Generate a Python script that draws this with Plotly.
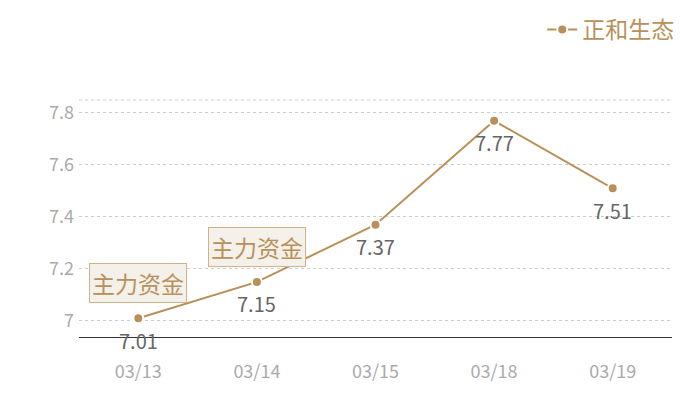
import plotly.graph_objects as go

dates = ['03/13', '03/14', '03/15', '03/18', '03/19']
prices = [7.01, 7.15, 7.37, 7.77, 7.51]
series_name = '正和生态'
flag_dates = ['03/13', '03/14']
flag_text = '主力资金'

gold = '#b8915a'
font_cn = 'Noto Sans CJK SC'

fig = go.Figure()
fig.add_trace(go.Scatter(
    x=dates, y=prices, name=series_name,
    mode='lines+markers',
    line=dict(color=gold, width=2),
    marker=dict(color=gold, size=10, line=dict(color='white', width=2)),
    cliponaxis=False,
))

# value labels under each point
for d, v in zip(dates, prices):
    fig.add_annotation(
        x=d, y=v, text=f'{v:.2f}', showarrow=False, yshift=-22,
        font=dict(color='#666666', size=20, family=font_cn),
    )

for d in flag_dates:
    fig.add_annotation(
        x=d, y=prices[dates.index(d)], text=flag_text,
        showarrow=False, yshift=35,
        font=dict(color=gold, size=23, family=font_cn),
        bgcolor='#f4f0ea', bordercolor='#cfb285', borderwidth=1, borderpad=2,
    )

# dotted top border of the grid
fig.add_shape(type='line', xref='paper', yref='paper', x0=0, x1=1, y0=1, y1=1,
              line=dict(color='#cccccc', width=1, dash='dot'))

# page body has an 8px margin, so the figure is sized to fit the window
fig.update_layout(
    width=692, height=392,
    margin=dict(l=71, r=28, t=92, b=63, autoexpand=False),
    plot_bgcolor='white',
    paper_bgcolor='white',
    font=dict(family=font_cn),
    showlegend=True,
    legend=dict(x=0.97, xanchor='right', xref='container', y=1, yanchor='top',
                yref='container',
                font=dict(color=gold, size=23, family=font_cn),
                bgcolor='rgba(0,0,0,0)'),
    xaxis=dict(range=[-0.5, 4.5], showgrid=False, zeroline=False,
               showline=True, linecolor='#333333', linewidth=1, automargin=False,
               ticks='', ticklabelstandoff=18,
               tickfont=dict(color='#aaaaaa', size=18)),
    yaxis=dict(range=[6.938, 7.85], tickvals=[7, 7.2, 7.4, 7.6, 7.8],
               ticktext=['7', '7.2', '7.4', '7.6', '7.8'], automargin=False,
               showgrid=True, gridcolor='#cccccc', griddash='dot', gridwidth=1,
               zeroline=False, showline=False, ticks='', ticklabelstandoff=4,
               tickfont=dict(color='#aaaaaa', size=18)),
)

fig.write_html("out.html")
